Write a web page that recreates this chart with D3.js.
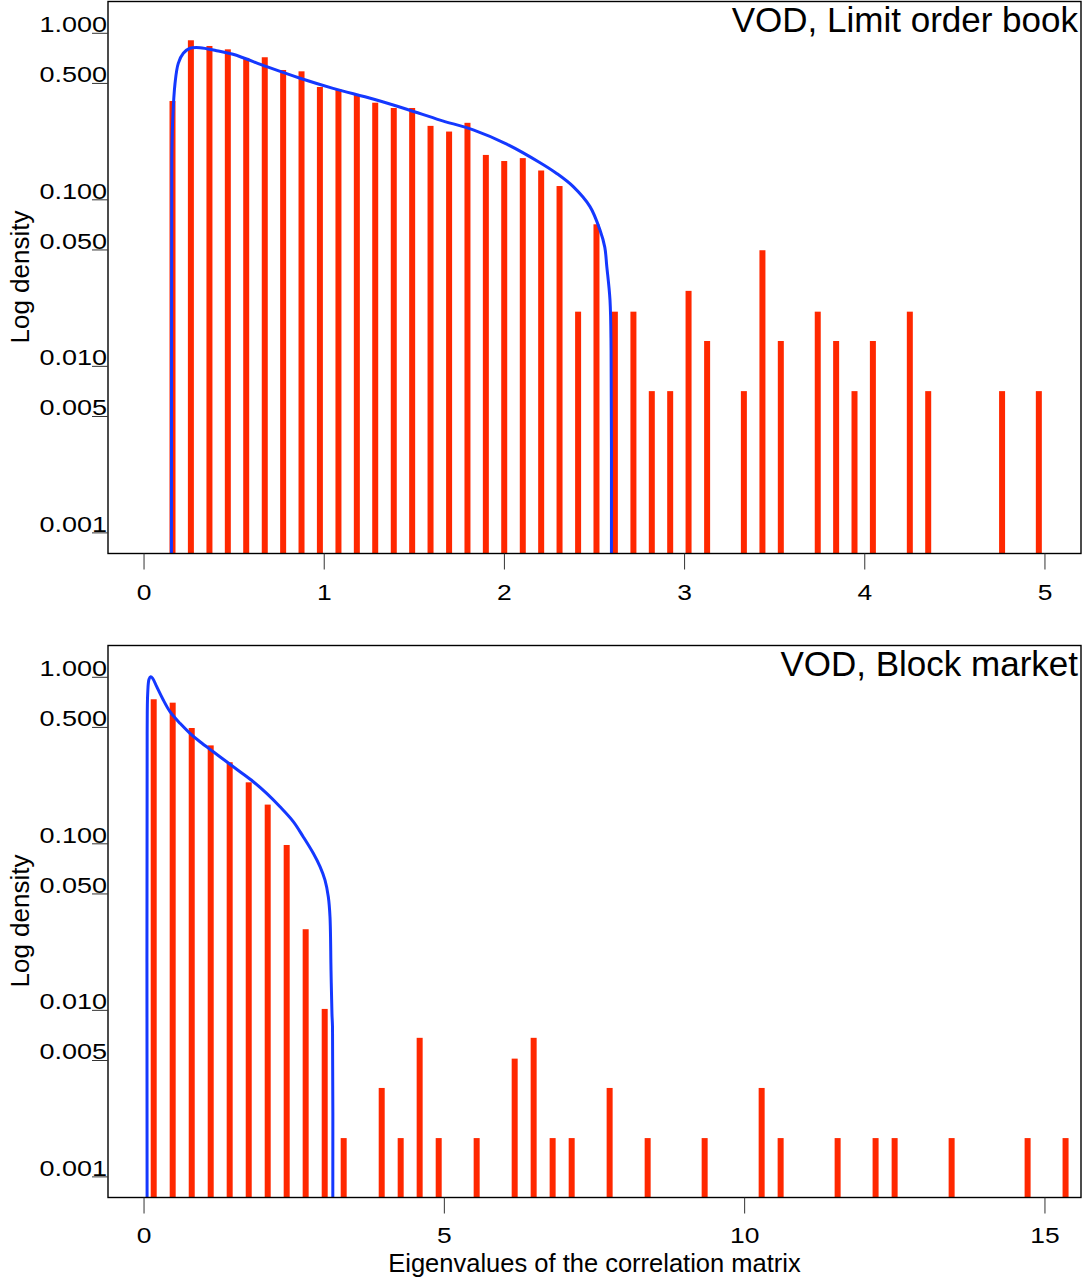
<!DOCTYPE html>
<html>
<head>
<meta charset="utf-8">
<script src="https://d3js.org/d3.v7.min.js"></script>
<style>
  body { margin: 0; background: #fff; }
  text { font-family: "Liberation Sans", Arial, Helvetica, sans-serif; fill: #000; }
</style>
</head>
<body>
<div id="chart"></div>
<script>
let exteriorWidth  = 1089,
    exteriorHeight = 1278;

// plot box of each panel (R style, with 4% padding on the axes)
let box = { left: 108, right: 1081, top: 1.5, bottom: 553.5 };
let panelStep = 644;

let yTicks      = [0.001, 0.005, 0.010, 0.050, 0.100, 0.500, 1.000];
let yTickLabels = ["0.001", "0.005", "0.010", "0.050", "0.100", "0.500", "1.000"];

// VOD, limit order book
let lobTitle   = "VOD, Limit order book";
let lobXTicks  = [0, 1, 2, 3, 4, 5];
let lobEigen   = [0.158, 0.260, 0.363, 0.465, 0.567, 0.670, 0.772, 0.874, 0.976, 1.079,
                  1.181, 1.283, 1.386, 1.488, 1.590, 1.693, 1.795, 1.897, 1.999, 2.102,
                  2.204, 2.306, 2.409, 2.511, 2.613, 2.716, 2.818, 2.920, 3.022, 3.125,
                  3.329, 3.432, 3.534, 3.739, 3.841, 3.943, 4.045, 4.250, 4.352, 4.762,
                  4.966];
let lobDensity = [0.392, 0.908, 0.839, 0.801, 0.711, 0.718, 0.602, 0.591, 0.476, 0.461,
                  0.426, 0.383, 0.356, 0.356, 0.278, 0.257, 0.290, 0.186, 0.171, 0.178,
                  0.150, 0.121, 0.0213, 0.0713, 0.0213, 0.0213, 0.0071, 0.0071, 0.0284, 0.0142,
                  0.0071, 0.0498, 0.0142, 0.0213, 0.0142, 0.0071, 0.0142, 0.0213, 0.0071, 0.0071,
                  0.0071];
let lobCurveX  = [0.152, 0.153, 0.154, 0.159, 0.172, 0.190, 0.218, 0.255, 0.311, 0.403,
                  0.494, 0.681, 0.866, 1.049, 1.271, 1.458, 1.643, 1.827, 2.013, 2.198,
                  2.290, 2.382, 2.475, 2.530, 2.557, 2.568, 2.586, 2.592, 2.594];
let lobCurveY  = [0.0007, 0.025, 0.173, 0.301, 0.501, 0.660, 0.758, 0.813, 0.820, 0.786,
                  0.748, 0.630, 0.537, 0.467, 0.403, 0.350, 0.301, 0.263, 0.216, 0.167,
                  0.144, 0.120, 0.091, 0.066, 0.052, 0.040, 0.025, 0.0125, 0.0007];

// VOD, block market
let blockTitle   = "VOD, Block market";
let blockXTicks  = [0, 5, 10, 15];
let blockEigen   = [0.161, 0.477, 0.794, 1.110, 1.426, 1.743, 2.059, 2.375, 2.691, 3.008,
                    3.324, 3.957, 4.273, 4.589, 4.906, 5.538, 6.171, 6.487, 6.803, 7.120,
                    7.752, 8.385, 9.334, 10.283, 10.599, 11.548, 12.180, 12.497, 13.446, 14.711,
                    15.343];
let blockDensity = [0.738, 0.704, 0.496, 0.390, 0.309, 0.234, 0.172, 0.0984, 0.0307, 0.0102,
                    0.00171, 0.00342, 0.00171, 0.00684, 0.00171, 0.00171, 0.00513, 0.00684, 0.00171, 0.00171,
                    0.00342, 0.00171, 0.00171, 0.00342, 0.00171, 0.00171, 0.00171, 0.00171, 0.00171, 0.00171,
                    0.00171];
let blockCurveX  = [0.051, 0.052, 0.061, 0.083, 0.111, 0.144, 0.211, 0.321, 0.432, 0.599,
                    0.765, 0.932, 1.153, 1.376, 1.598, 1.819, 2.042, 2.264, 2.485, 2.652,
                    2.818, 2.930, 3.013, 3.068, 3.096, 3.113, 3.129, 3.138, 3.143];
let blockCurveY  = [0.0007, 0.461, 0.801, 0.973, 1.008, 0.986, 0.878, 0.730, 0.622, 0.529,
                    0.461, 0.410, 0.357, 0.311, 0.271, 0.236, 0.201, 0.167, 0.136, 0.110,
                    0.0877, 0.0729, 0.0606, 0.0481, 0.0365, 0.0174, 0.0095, 0.0079, 0.0007];

let xLabel = "Eigenvalues of the correlation matrix";
let yLabel = "Log density";

let barColor  = "#ff2800",
    lineColor = "#1438ff";

let svg =
  d3.select("#chart")
    .append("svg")
      .attr("width", exteriorWidth)
      .attr("height", exteriorHeight);

let panels = [
  { id: "lob", title: lobTitle, xDomain: [-0.2, 5.2], xTicks: lobXTicks, tickBase: 600,
    bars: lobEigen.map(function(e, i) { return { x: e, v: lobDensity[i] }; }),
    curve: lobCurveX.map(function(e, i) { return { x: e, v: lobCurveY[i] }; }) },
  { id: "block", title: blockTitle, xDomain: [-0.6, 15.6], xTicks: blockXTicks, tickBase: 599,
    bars: blockEigen.map(function(e, i) { return { x: e, v: blockDensity[i] }; }),
    curve: blockCurveX.map(function(e, i) { return { x: e, v: blockCurveY[i] }; }) }
];

panels.forEach(function(p, i) {
  let g = svg.append("g")
      .attr("transform", translate(0, i * panelStep));

  let x = d3.scaleLinear()
      .domain(p.xDomain)
      .range([box.left, box.right]);

  let y = d3.scaleLog()
      .domain([0.000752, 1.552])
      .range([box.bottom, box.top]);

  g.append("clipPath")
      .attr("id", "clip-" + p.id)
    .append("rect")
      .attr("x", box.left)
      .attr("y", box.top)
      .attr("width", box.right - box.left)
      .attr("height", box.bottom - box.top);

  g.selectAll(".bar")
    .data(p.bars)
    .enter()
    .append("rect")
      .attr("class", "bar")
      .attr("x", function(d) { return x(d.x) - 3; })
      .attr("width", 6)
      .attr("y", function(d) { return y(d.v); })
      .attr("height", function(d) { return box.bottom - y(d.v); })
      .attr("fill", barColor);

  let line = d3.line()
      .curve(d3.curveCatmullRom.alpha(0.5))
      .x(function(d) { return x(d.x); })
      .y(function(d) { return y(d.v); });

  g.append("path")
      .attr("clip-path", "url(#clip-" + p.id + ")")
      .attr("d", line(p.curve))
      .attr("fill", "none")
      .attr("stroke", lineColor)
      .attr("stroke-width", 3)
      .attr("stroke-linejoin", "round");

  g.append("rect")
      .attr("x", box.left)
      .attr("y", box.top)
      .attr("width", box.right - box.left)
      .attr("height", box.bottom - box.top)
      .attr("fill", "none")
      .attr("stroke", "#000")
      .attr("stroke-width", 1.4);

  // y ticks: short lines left of the box, label sitting on the tick
  let yt = g.selectAll(".ytick")
    .data(yTicks)
    .enter()
    .append("g")
      .attr("class", "ytick");

  yt.append("line")
      .attr("x1", box.left - 16)
      .attr("x2", box.left)
      .attr("y1", function(d) { return y(d); })
      .attr("y2", function(d) { return y(d); })
      .attr("stroke", "#333")
      .attr("stroke-width", 1);

  yt.append("text")
      .attr("transform", function(d) { return translate(box.left - 1, y(d) - 1) + " scale(1.2,1)"; })
      .attr("text-anchor", "end")
      .attr("font-size", "22.5px")
      .text(function(d, j) { return yTickLabels[j]; });

  let xt = g.selectAll(".xtick")
    .data(p.xTicks)
    .enter()
    .append("g")
      .attr("class", "xtick");

  xt.append("line")
      .attr("x1", function(d) { return x(d); })
      .attr("x2", function(d) { return x(d); })
      .attr("y1", box.bottom)
      .attr("y2", box.bottom + 16)
      .attr("stroke", "#333")
      .attr("stroke-width", 1);

  xt.append("text")
      .attr("transform", function(d) { return translate(x(d), p.tickBase) + " scale(1.2,1)"; })
      .attr("text-anchor", "middle")
      .attr("font-size", "22px")
      .text(function(d) { return d; });

  g.append("text")
      .attr("x", 1078)
      .attr("y", 32)
      .attr("text-anchor", "end")
      .attr("font-size", "35px")
      .text(p.title);

  g.append("text")
      .attr("transform", translate(29, 277) + " rotate(-90)")
      .attr("text-anchor", "middle")
      .attr("font-size", "26px")
      .text(yLabel);
});

svg.append("text")
    .attr("x", (box.left + box.right) / 2)
    .attr("y", 1272)
    .attr("text-anchor", "middle")
    .attr("font-size", "25.5px")
    .text(xLabel);

function translate(x, y=0) {
  return "translate({x}, {y})"
          .replace("{x}", x)
          .replace("{y}", y);
}
</script>
</body>
</html>
